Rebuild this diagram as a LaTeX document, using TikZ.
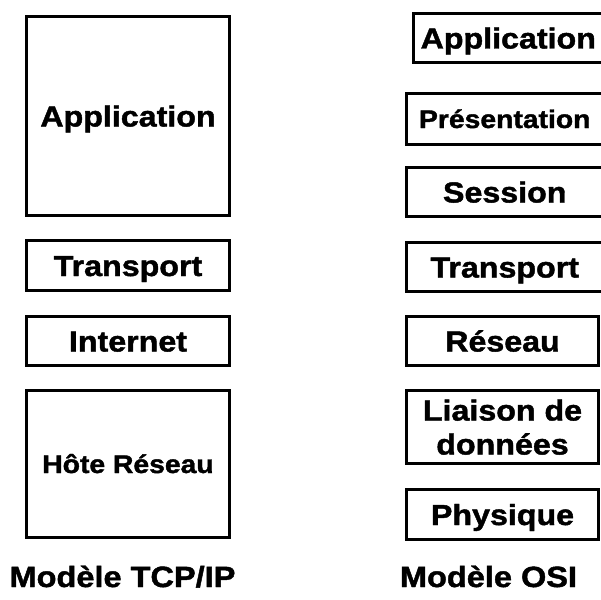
\documentclass[tikz,border=0pt]{standalone}
\usepackage{fontspec}
\setmainfont{Liberation Sans}[FakeStretch=1.11,BoldFeatures={FakeBold=1.5}]
\begin{document}
\begin{tikzpicture}[x=1pt,y=-1pt,
  layer/.style={draw=black,line width=3pt,inner sep=0pt,outer sep=0pt,
    font=\fontsize{29}{34}\selectfont\bfseries,align=center,
    text height=21pt,text depth=0pt},
  smalllayer/.style={layer,font=\fontsize{25.5}{30}\selectfont\bfseries,text height=18pt},
  caption/.style={anchor=base,inner sep=0pt,font=\fontsize{29.3}{34}\selectfont\bfseries}]
\useasboundingbox (0,0) rectangle (601,599);
\clip (0,0) rectangle (601,599);
\fill[white] (0,0) rectangle (601,599);

% TCP/IP stack
\node[layer,minimum width=203pt,minimum height=199pt] (tapp) at (128,116) {Application};
\node[layer,minimum width=203pt,minimum height=50pt] (ttra) at (128,265.5) {Transport};
\node[layer,minimum width=203pt,minimum height=49pt] (tint) at (128,341) {Internet};
\node[smalllayer,minimum width=203pt,minimum height=147pt] (thote) at (128,464) {Hôte Réseau};
\node[caption] (tcap) at (122.5,587) {Modèle TCP/IP};

% OSI stack (top four boxes run past the right edge)
\node[layer,minimum width=189.5pt,minimum height=49pt] (oapp) at (508.25,38) {Application};
\node[smalllayer,minimum width=196.5pt,minimum height=51pt] (opre) at (504.75,119) {Présentation};
\node[layer,minimum width=196.5pt,minimum height=49pt] (oses) at (504.75,192) {Session};
\node[layer,minimum width=196.5pt,minimum height=49pt] (otra) at (504.75,267) {Transport};
\node[layer,minimum width=192pt,minimum height=49pt] (ores) at (502.5,341) {Réseau};
\node[layer,minimum width=192pt,minimum height=73pt,text height=55pt] (olia) at (502.5,427) {Liaison de\\données};
\node[layer,minimum width=192pt,minimum height=50pt] (ophy) at (502.5,514.5) {Physique};
\node[caption] (ocap) at (488.5,587) {Modèle OSI};
\end{tikzpicture}
\end{document}
